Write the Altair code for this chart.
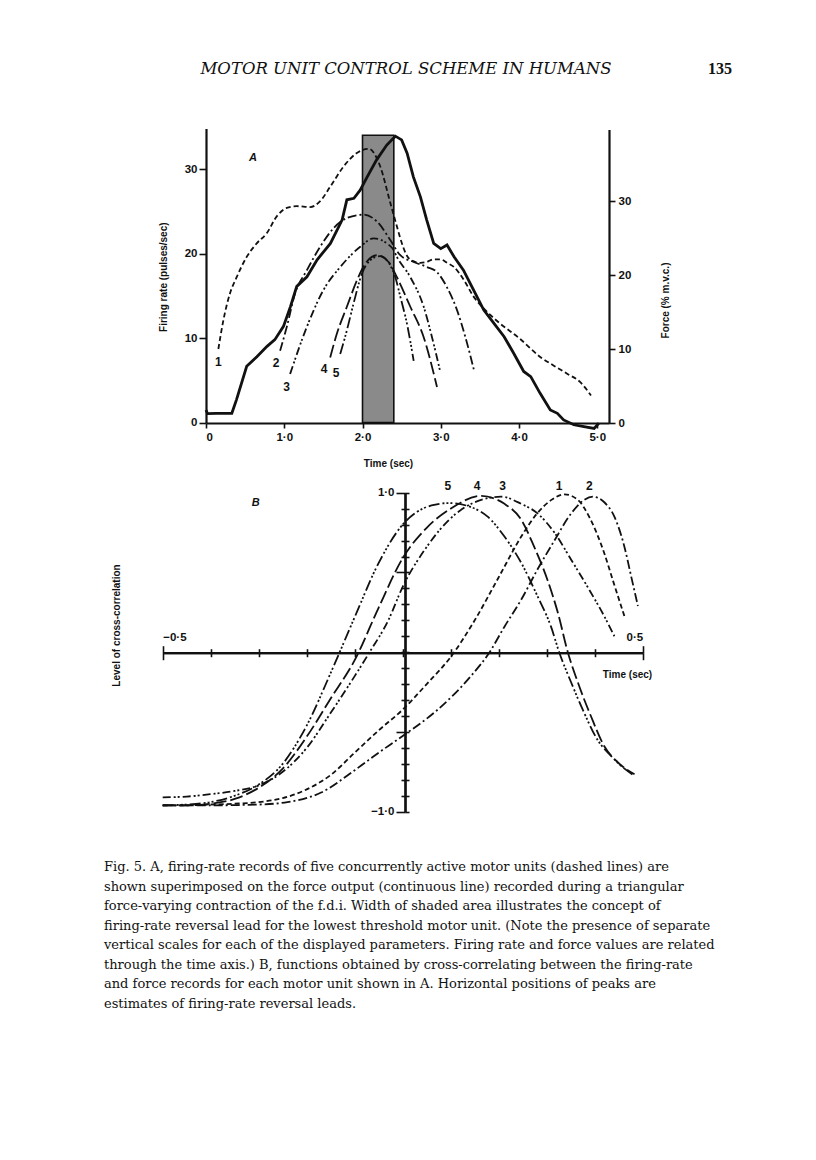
import altair as alt
import pandas as pd

# ---------------- Panel A data (time in s) ----------------
FORCE_T = [0.0, 0.02, 0.13, 0.33, 0.39, 0.52, 0.65, 0.78, 0.88, 0.99, 1.08, 1.16, 1.29, 1.42, 1.59, 1.74,
           1.80, 1.89, 1.97, 2.06, 2.18, 2.31, 2.42, 2.50, 2.57, 2.65, 2.74, 2.82, 2.91, 3.00, 3.08, 3.17,
           3.29, 3.42, 3.55, 3.68, 3.81, 3.93, 4.06, 4.15, 4.27, 4.40, 4.49, 4.57, 4.70, 4.83, 4.96, 5.02]
FORCE_V = [1.8, 1.3, 1.35, 1.35, 3.2, 7.7, 9.0, 10.4, 11.3, 13.1, 15.8, 18.5, 19.8, 22.1, 24.3, 27.5,
           30.2, 30.4, 31.5, 33.3, 35.6, 37.6, 38.8, 38.3, 36.5, 33.3, 30.6, 27.5, 24.3, 23.6, 24.1, 22.5,
           20.7, 18.0, 15.3, 13.5, 11.7, 9.5, 7.0, 6.3, 4.05, 1.8, 1.35, 0.45, -0.2, -0.45, -0.7, 0.0]

U1_T = [0.158, 0.222, 0.307, 0.392, 0.520, 0.648, 0.776, 0.904, 1.032, 1.160, 1.331, 1.459, 1.587, 1.758,
        1.928, 2.078, 2.227, 2.355, 2.44, 2.50, 2.57, 2.65, 2.74, 2.82, 2.90, 3.00, 3.08, 3.17, 3.30, 3.42,
        3.58, 3.76, 4.00, 4.28, 4.45, 4.62, 4.78, 4.92]
U1_FR = [8.7, 12.1, 15.3, 17.2, 19.6, 21.2, 22.4, 24.4, 25.4, 25.6, 25.5, 26.2, 27.9, 30.3,
         31.9, 32.4, 30.3, 26.0, 23.2, 21.3, 19.7, 19.1, 18.9, 19.0, 19.3, 19.3, 18.9, 18.4, 16.8, 14.9,
         13.2, 11.7, 10.0, 7.7, 6.7, 5.75, 4.8, 3.2]
U2_T = [0.947, 1.032, 1.139, 1.288, 1.459, 1.630, 1.800, 2.014, 2.184, 2.355, 2.483, 2.654, 2.824, 2.952,
        3.080, 3.208, 3.315, 3.422]
U2_FR = [8.5, 11.3, 15.3, 18.0, 20.8, 23.0, 24.2, 24.6, 23.8, 21.6, 19.8, 19.0, 18.4, 17.8,
         16.0, 13.3, 10.1, 6.3]
U3_T = [1.075, 1.288, 1.502, 1.715, 1.971, 2.142, 2.312, 2.398, 2.440, 2.611, 2.782, 2.888, 2.995]
U3_FR = [5.75, 11.3, 15.7, 18.4, 20.8, 21.8, 21.2, 20.4, 19.6, 17.2, 13.7, 10.1, 5.95]
U4_T = [1.587, 1.672, 1.800, 1.928, 2.035, 2.184, 2.334, 2.440, 2.611, 2.782, 2.952]
U4_FR = [7.7, 10.5, 13.7, 16.8, 18.8, 19.8, 19.0, 17.2, 13.7, 10.1, 4.2]
U5_T = [1.715, 1.800, 1.886, 1.992, 2.099, 2.227, 2.355, 2.419, 2.483, 2.568, 2.654]
U5_FR = [8.1, 10.9, 14.1, 17.6, 19.2, 19.7, 18.6, 17.2, 14.9, 11.7, 7.3]

SHADE_T0 = [2.0]
SHADE_T1 = [2.4]
SHADE_TOP = [34.0]

A_LABEL_TEXT = ["1", "2", "3", "4", "5"]
A_LABEL_T = [0.157, 0.895, 1.031, 1.508, 1.661]
A_LABEL_FR = [7.2, 7.0, 4.2, 6.3, 5.9]
A_TAG_T = [0.60]
A_TAG_FR = [31.3]

A_XTICKS = [0, 1, 2, 3, 4, 5]
A_LTICKS = [0, 10, 20, 30]
A_RTICKS = [0, 10, 20, 30]

# ---------------- Panel B data (lag in s, correlation level) ----------------
B1_T = [-0.5, -0.45, -0.4, -0.35, -0.3, -0.25, -0.2, -0.15, -0.1, -0.05, 0.0, 0.05, 0.1, 0.15, 0.2, 0.25,
        0.28, 0.31, 0.337, 0.365, 0.39, 0.42, 0.44, 0.462]
B1_R = [-0.96, -0.96, -0.955, -0.95, -0.94, -0.915, -0.86, -0.77, -0.63, -0.49, -0.36, -0.2, -0.03, 0.2,
        0.47, 0.74, 0.87, 0.955, 0.99, 0.955, 0.84, 0.62, 0.43, 0.225]
B2_T = [-0.5, -0.4, -0.3, -0.24, -0.17, -0.1, -0.05, 0.0, 0.073, 0.142, 0.181, 0.212, 0.247, 0.281, 0.316,
        0.351, 0.378, 0.396, 0.42, 0.441, 0.462, 0.476, 0.49]
B2_R = [-0.96, -0.96, -0.955, -0.94, -0.88, -0.74, -0.63, -0.525, -0.36, -0.15, 0.0, 0.16, 0.33, 0.52, 0.70,
        0.87, 0.955, 0.975, 0.94, 0.85, 0.66, 0.475, 0.29]
B3_T = [-0.5, -0.45, -0.4, -0.35, -0.3, -0.25, -0.2, -0.15, -0.1, -0.069, -0.03, 0.0, 0.05, 0.1, 0.15, 0.205,
        0.247, 0.281, 0.316, 0.351, 0.385, 0.42, 0.441]
B3_R = [-0.91, -0.905, -0.89, -0.87, -0.835, -0.75, -0.6, -0.38, -0.15, 0.0, 0.2, 0.41, 0.66, 0.84, 0.94, 0.975,
        0.93, 0.87, 0.75, 0.58, 0.41, 0.225, 0.1]
B4_T = [-0.5, -0.45, -0.4, -0.35, -0.3, -0.25, -0.2, -0.15, -0.1, -0.05, 0.0, 0.05, 0.1, 0.163, 0.212, 0.247,
        0.274, 0.302, 0.323, 0.344, 0.365, 0.392, 0.42, 0.448, 0.483]
B4_R = [-0.96, -0.96, -0.95, -0.92, -0.85, -0.73, -0.53, -0.29, -0.05, 0.28, 0.59, 0.78, 0.9, 0.98, 0.93, 0.83,
        0.66, 0.45, 0.25, 0.0, -0.19, -0.4, -0.59, -0.69, -0.765]
B5_T = [-0.5, -0.45, -0.4, -0.35, -0.3, -0.25, -0.2, -0.15, -0.1, -0.05, 0.0, 0.03, 0.06, 0.097, 0.142, 0.177,
        0.212, 0.247, 0.281, 0.309, 0.326, 0.351, 0.378, 0.406, 0.434, 0.462, 0.483]
B5_R = [-0.96, -0.955, -0.94, -0.9, -0.83, -0.7, -0.46, -0.13, 0.22, 0.56, 0.8, 0.88, 0.92, 0.935, 0.91, 0.85,
        0.725, 0.56, 0.35, 0.16, 0.0, -0.19, -0.38, -0.55, -0.65, -0.73, -0.775]

B_LABEL_TEXT = ["5", "4", "3", "1", "2"]
B_LABEL_T = [0.094, 0.155, 0.208, 0.326, 0.389]
B_LABEL_R = [1.04, 1.04, 1.04, 1.04, 1.04]
B_TAG_T = [-0.306]
B_TAG_R = [0.936]

B_XTICKS = [-0.5, -0.4, -0.3, -0.2, -0.1, 0.0, 0.1, 0.2, 0.3, 0.4, 0.5]
B_YTICKS = [-1.0, -0.9, -0.8, -0.7, -0.6, -0.5, -0.4, -0.3, -0.2, -0.1, 0.0,
            0.1, 0.2, 0.3, 0.4, 0.5, 0.6, 0.7, 0.8, 0.9, 1.0]

HEADER = "MOTOR UNIT CONTROL SCHEME IN HUMANS"
PAGE_NO = "135"
CAPTION = [
    "Fig. 5. A, firing-rate records of five concurrently active motor units (dashed lines) are",
    "shown superimposed on the force output (continuous line) recorded during a triangular",
    "force-varying contraction of the f.d.i. Width of shaded area illustrates the concept of",
    "firing-rate reversal lead for the lowest threshold motor unit. (Note the presence of separate",
    "vertical scales for each of the displayed parameters. Firing rate and force values are related",
    "through the time axis.) B, functions obtained by cross-correlating between the firing-rate",
    "and force records for each motor unit shown in A. Horizontal positions of peaks are",
    "estimates of firing-rate reversal leads.",
]

# ---------------- layout / style ----------------
W, H = 800, 1144
SANS = "Liberation Sans"
SERIF = "DejaVu Serif"
INK = "#111111"

XA = ([0, 5.15], [198, 601])
YL = ([0, 34.8], [414.5, 120.5])
YF = ([0, 39.7], [415.3, 121.5])
XB = ([-0.5, 0.5], [154.7, 634.7])
YB = ([-1.0, 1.0], [803.7, 484.7])


def sc(spec):
    return alt.Scale(domain=spec[0], range=spec[1], nice=False, zero=False)


AX = dict(labelFont=SANS, labelFontSize=11.5, labelFontWeight="bold", labelColor=INK,
          domainColor=INK, tickColor=INK, grid=False, titleFont=SANS, titleColor=INK,
          titleFontWeight="bold", titleFontSize=10, domainWidth=2.2, tickWidth=1.6)

ax_a_x = alt.Axis(orient="bottom", offset=415 - H, values=A_XTICKS,
                  labelExpr="datum.value == 0 ? '0' : replace(format(datum.value, '.1f'), '.', '·')",
                  tickSize=5, labelPadding=3, title="Time (sec)", titleX=380, titleY=40,
                  titleAlign="center", titleBaseline="middle", **AX)
ax_a_left = alt.Axis(orient="left", offset=-198, values=A_LTICKS, format="d", tickSize=7, labelPadding=2,
                     title="Firing rate (pulses/sec)", titleX=-43, titleY=268.7, titleAngle=270,
                     titleAlign="center", titleBaseline="middle", **AX)
ax_a_right = alt.Axis(orient="right", offset=601 - W, values=A_RTICKS, format="d", tickSize=6, labelPadding=3,
                      title="Force (% m.v.c.)", titleX=56, titleY=292, titleAngle=270,
                      titleAlign="center", titleBaseline="middle", **AX)

end_tick_x = {"condition": {"test": "abs(datum.value) > 0.45", "value": 7}, "value": 4}
end_tick_y = {"condition": {"test": "abs(abs(datum.value) - 0.5) < 0.01 || abs(datum.value) > 0.95", "value": 9},
              "value": 4}
ax_b_xbot = alt.Axis(orient="bottom", offset=644.7 - H, values=B_XTICKS, labels=False, tickSize=end_tick_x,
                     title="Time (sec)", titleX=619, titleY=22, titleAlign="center", titleBaseline="middle", **AX)
ax_b_xtop = alt.Axis(orient="top", offset=-644.7, values=B_XTICKS, tickSize=end_tick_x, labelPadding=3,
                     labelExpr="datum.value < -0.45 ? '−0·5' : (datum.value > 0.45 ? '0·5' : '')",
                     title=None, **AX)
ax_b_yleft = alt.Axis(orient="left", offset=-397, values=B_YTICKS, tickSize=end_tick_y, labelPadding=2,
                      labelExpr="datum.value > 0.95 ? '1·0' : (datum.value < -0.95 ? '−1·0' : '')",
                      title="Level of cross-correlation", titleX=-289, titleY=617, titleAngle=270,
                      titleAlign="center", titleBaseline="middle", **AX)
ax_b_yright = alt.Axis(orient="right", offset=397 - W, values=B_YTICKS, labels=False, tickSize=4,
                       title=None, **AX)


def line_layer(t, v, xs, ys, dash, width, xaxis=None, yaxis=None, interp="monotone"):
    df = pd.DataFrame({"t": t, "v": v})
    kw = dict(color=INK, strokeWidth=width, interpolate=interp)
    if dash:
        kw["strokeDash"] = dash
    return alt.Chart(df).mark_line(**kw).encode(
        x=alt.X("t:Q", scale=sc(xs), axis=xaxis),
        y=alt.Y("v:Q", scale=sc(ys), axis=yaxis),
    )


def label_layer(texts, t, v, xs, ys, size=12, style="normal"):
    df = pd.DataFrame({"s": texts, "t": t, "v": v})
    return alt.Chart(df).mark_text(font=SANS, fontSize=size, fontWeight="bold", fontStyle=style,
                                   color=INK, align="center", baseline="middle").encode(
        x=alt.X("t:Q", scale=sc(xs), axis=None),
        y=alt.Y("v:Q", scale=sc(ys), axis=None),
        text="s:N",
    )


D1 = [5, 3]
D2 = [9, 3, 2, 3]
D3 = [8, 3, 2, 2, 2, 3]
D4 = [13, 4]
D5 = [11, 3, 2, 2, 2, 2, 2, 3]

shade = alt.Chart(pd.DataFrame({"t0": SHADE_T0, "t1": SHADE_T1, "top": SHADE_TOP,
                                "base": [0.0]})).mark_rect(
    fill="#8a8a8a", stroke=INK, strokeWidth=1.6).encode(
    x=alt.X("t0:Q", scale=sc(XA), axis=ax_a_x),
    x2="t1:Q",
    y=alt.Y("base:Q", scale=sc(YL), axis=ax_a_left),
    y2="top:Q",
)

layers = [
    shade,
    line_layer(U1_T, U1_FR, XA, YL, D1, 1.8),
    line_layer(U2_T, U2_FR, XA, YL, D2, 1.8),
    line_layer(U3_T, U3_FR, XA, YL, D3, 1.8),
    line_layer(U4_T, U4_FR, XA, YL, D4, 1.8),
    line_layer(U5_T, U5_FR, XA, YL, D5, 1.8),
    line_layer(FORCE_T, FORCE_V, XA, YF, None, 2.8, yaxis=ax_a_right, interp="linear"),
    label_layer(A_LABEL_TEXT, A_LABEL_T, A_LABEL_FR, XA, YL),
    label_layer(["A"], A_TAG_T, A_TAG_FR, XA, YL, size=11, style="italic"),
    line_layer(B1_T, B1_R, XB, YB, D1, 1.8, xaxis=ax_b_xbot, yaxis=ax_b_yleft),
    line_layer(B2_T, B2_R, XB, YB, D2, 1.8, xaxis=ax_b_xtop, yaxis=ax_b_yright),
    line_layer(B3_T, B3_R, XB, YB, D3, 1.8),
    line_layer(B4_T, B4_R, XB, YB, D4, 1.8),
    line_layer(B5_T, B5_R, XB, YB, D5, 1.8),
    label_layer(B_LABEL_TEXT, B_LABEL_T, B_LABEL_R, XB, YB),
    label_layer(["B"], B_TAG_T, B_TAG_R, XB, YB, size=11, style="italic"),
]

one = pd.DataFrame({"k": [0]})
header = alt.Chart(one).mark_text(text=HEADER, font=SERIF, fontStyle="italic", fontSize=16.5, color=INK,
                                  align="center", baseline="alphabetic").encode(x=alt.value(398), y=alt.value(66))
page_no = alt.Chart(one).mark_text(text=PAGE_NO, font="Liberation Serif", fontWeight="bold", fontSize=16,
                                   color=INK, align="center", baseline="alphabetic").encode(
    x=alt.value(712), y=alt.value(66))
caption = alt.Chart(one).mark_text(text=CAPTION, font=SERIF, fontSize=13, lineHeight=19.5, color=INK,
                                   align="left", baseline="top").encode(x=alt.value(96), y=alt.value(853))

chart = alt.layer(*layers, header, page_no, caption).resolve_scale(
    x="independent", y="independent"
).properties(
    width=W, height=H, padding=0, autosize=alt.AutoSizeParams(type="none")
).configure_view(stroke=None)

chart.save("out.html", embed_options={"renderer": "svg", "actions": False})
